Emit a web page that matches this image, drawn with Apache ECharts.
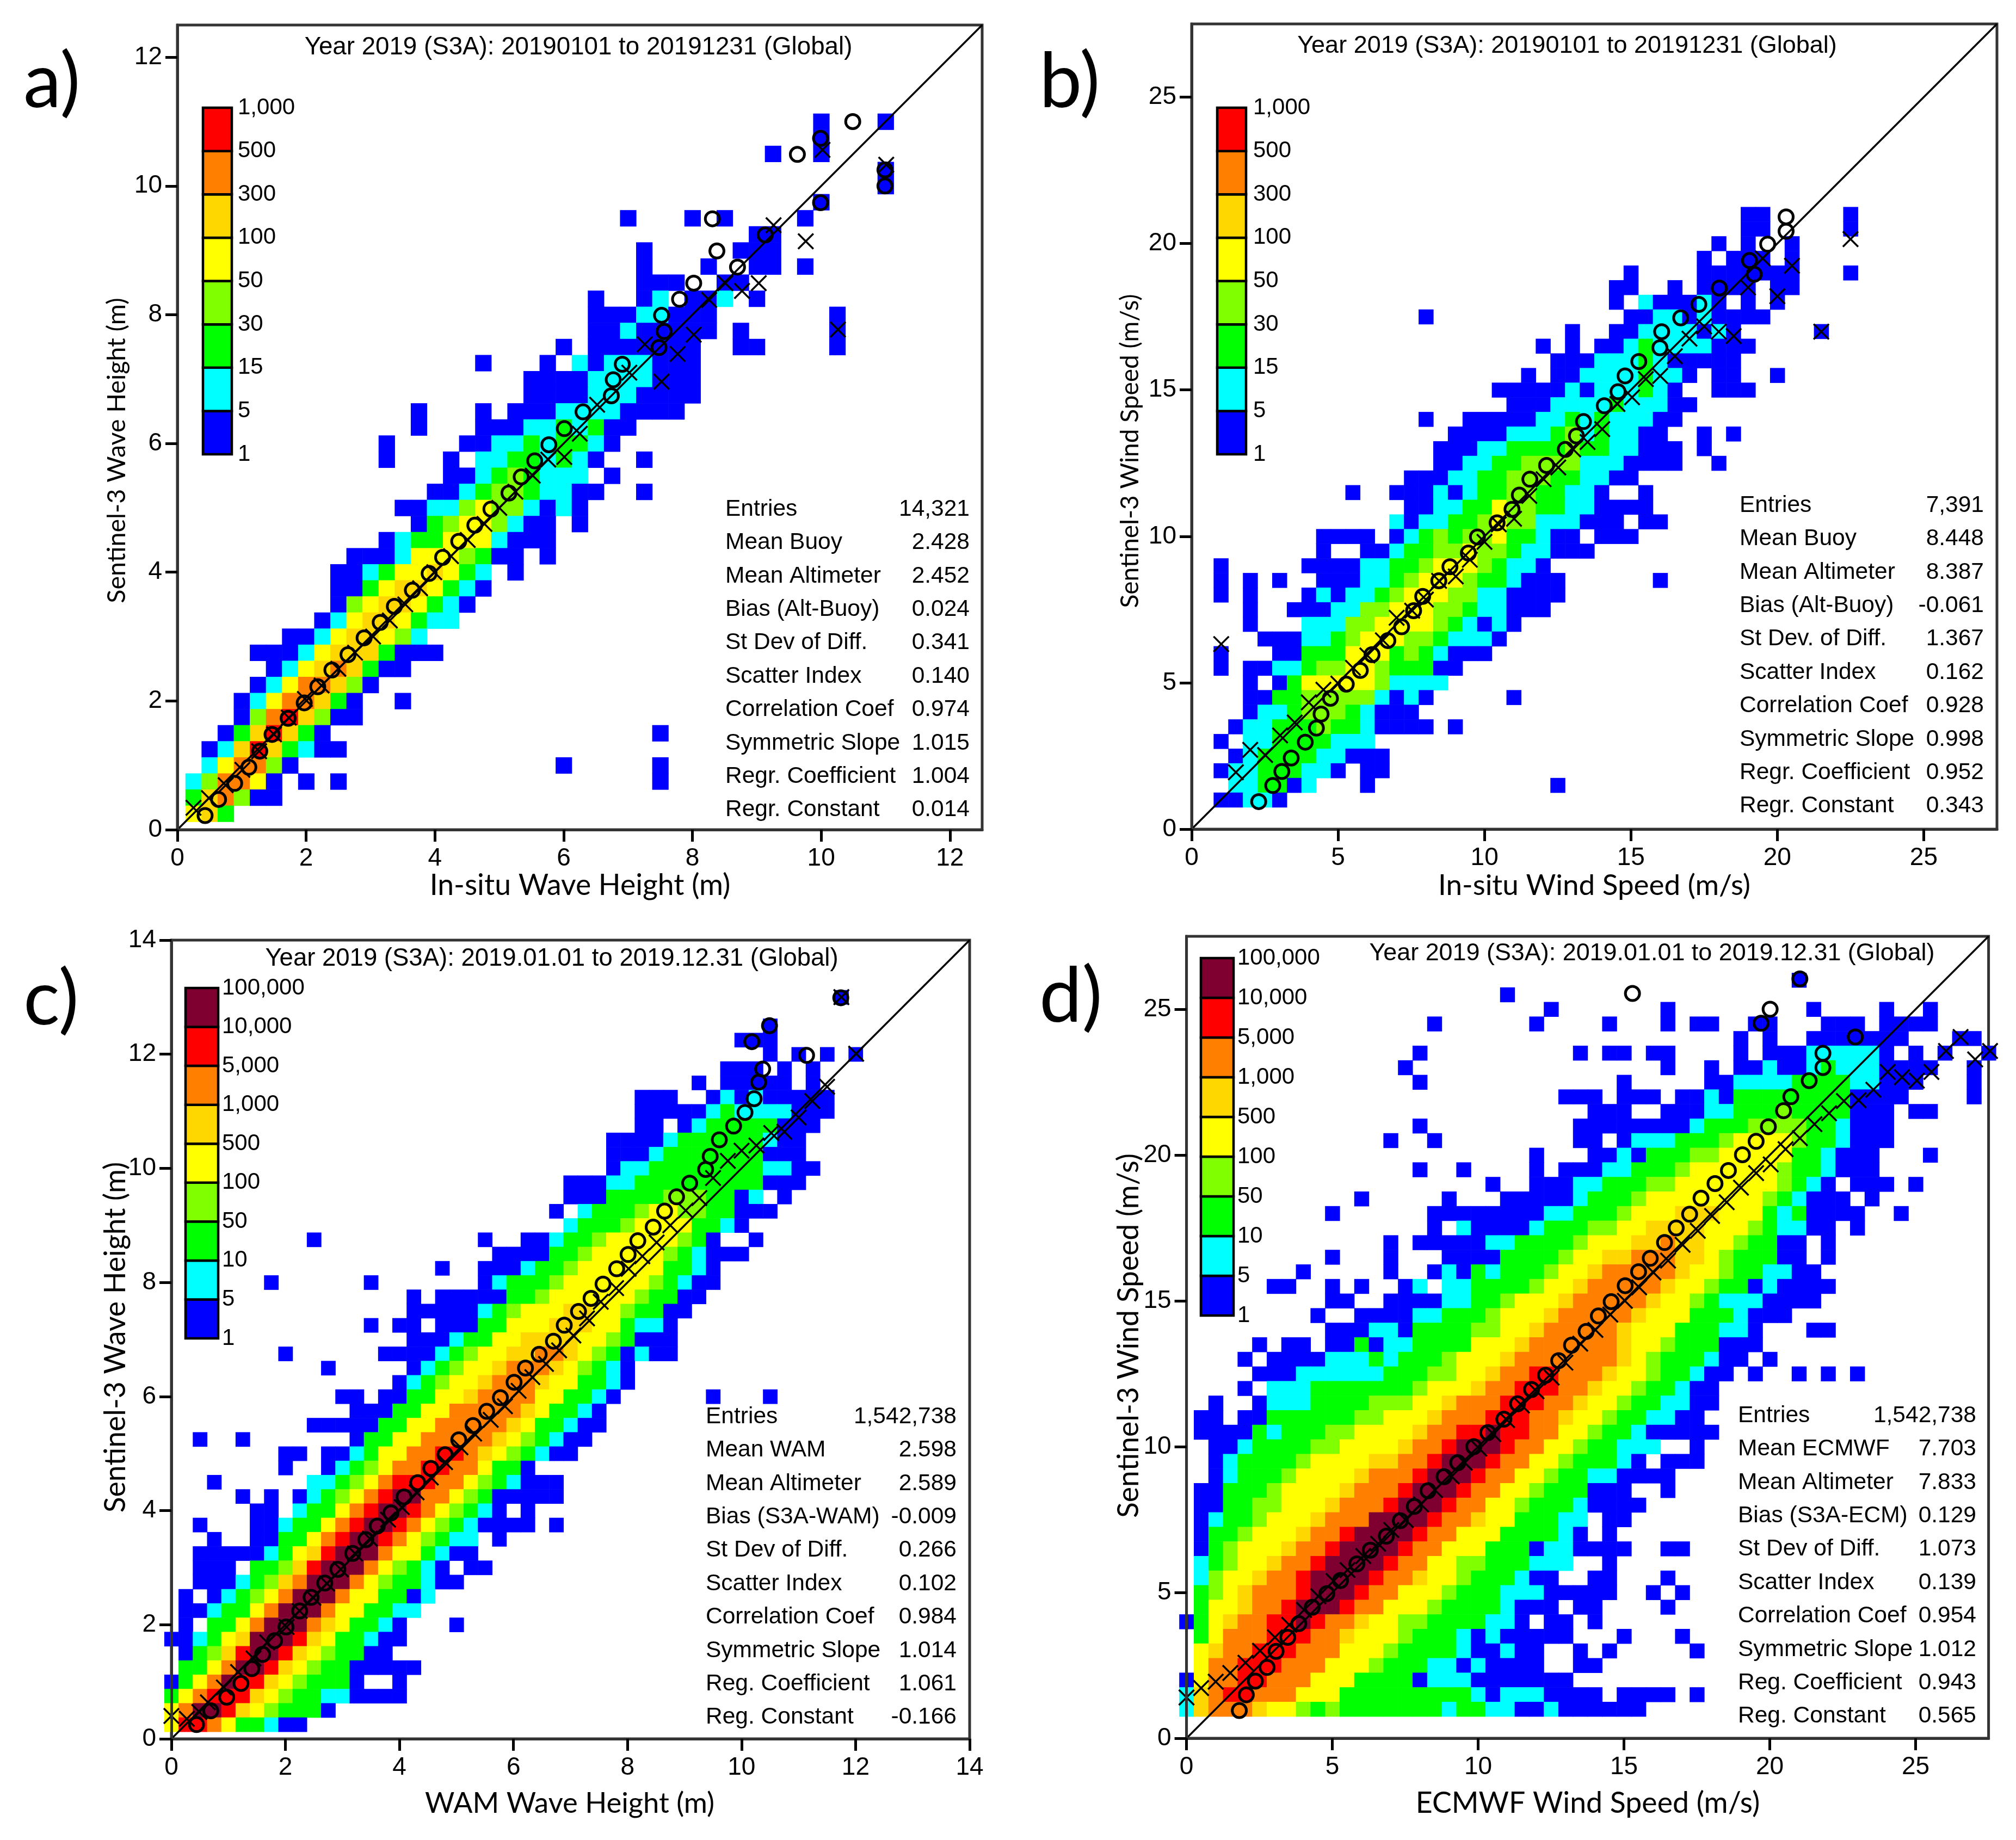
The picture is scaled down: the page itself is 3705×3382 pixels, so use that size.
<!DOCTYPE html>
<html>
<head>
<meta charset="utf-8">
<title>Sentinel-3 scatter comparison 2019</title>
<style>
	html, body { margin: 0; padding: 0; background: #fff; }
	#main { width: 3705px; height: 3382px; }
</style>
<script src="https://cdn.jsdelivr.net/npm/echarts@6/dist/echarts.min.js"></script>
</head>
<body>
<div id="main"></div>
<script type="text/javascript">
// colour classes, 1 = lowest count class
var classColors = ['#0000ff', '#00ffff', '#00ff00', '#80ff00', '#ffff00', '#ffd700', '#ff8000', '#ff0000', '#7f0030'];
var barLabelsTop = ['1', '5', '15', '30', '50', '100', '300', '500', '1,000'];
var barLabelsBottom = ['1', '5', '10', '50', '100', '500', '1,000', '5,000', '10,000', '100,000'];

var ticksWaveA = [0, 2, 4, 6, 8, 10, 12];
var ticksWaveC = [0, 2, 4, 6, 8, 10, 12, 14];
var ticksWind = [0, 5, 10, 15, 20, 25];

// cells per row: [row, first column, class per column] ('.' = empty), row/col count in bins
var cellsA = [
[44,40,'1...1'],[43,40,'1'],[42,37,'1..1'],[41,44,'1'],[40,44,'1'],[39,40,'1'],
[38,28,'1...1.1....1'],[37,36,'11'],[36,29,'1.....111'],[35,29,'1...1..11.1'],[34,29,'111..11'],
[33,26,'1..12.112.1'],[32,26,'11122111.......1'],[31,26,'11211111.1.....1'],[30,24,'1.1111111..11....1'],
[29,19,'1...1.21222111'],[28,22,'11112222111'],[27,22,'11112221111'],[26,15,'1...1.11122221111'],
[25,15,'1...1112232311'],[24,13,'1....1122323321'],[23,13,'1...1.22332321..1'],[22,17,'112343222.1'],
[21,16,'11234432211..1'],[20,14,'112245442121'],[19,15,'134554211.1'],[18,13,'12335552111'],
[17,11,'11125554311.1'],[16,10,'1123556532.1'],[15,10,'1135665321'],[14,10,'145665321'],[13,9,'125665322'],
[12,7,'112566542'],[11,5,'111256663111'],[10,6,'125676311'],[9,5,'12577641'],[8,4,'12577631..1'],
[7,4,'14786411'],[6,3,'1368631'],[6,30,'1'],[5,2,'126863211'],[4,2,'257741'],[4,24,'1'],[4,30,'1'],
[3,1,'247751.1.1'],[3,30,'1'],[2,1,'367411'],[1,1,'563']
];
var cellsB = [
[42,38,'11'],[42,45,'1'],[41,38,'11'],[41,45,'1'],[40,36,'1.1..1'],[39,35,'1.111.1'],[38,30,'1....1111111...1'],
[37,29,'11..1.1111.11'],[36,29,'1.211121.1.1'],[35,16,'1'],[35,30,'1122121111'],[34,26,'1..112222121.....1'],
[33,24,'1.1.11232222111'],[32,25,'1112223211111'],[31,23,'1.1122223221.11..1'],[30,21,'1111121222321..111'],
[29,22,'1112222322211'],[28,16,'1'],[28,19,'111112232322211'],[27,18,'111122234232211..1.1'],
[26,17,'11122333343322111.1'],[25,17,'11223344442221111..1'],[24,15,'1112233444332211'],
[23,11,'1..111212334433221..1'],[22,15,'11223354433221111'],[21,14,'2122334544222111.11'],
[20,9,'1111.1234344533211.111'],[19,9,'1..1123344544322111'],[18,2,'1.....11112233455543221'],
[17,2,'1.1.1..11122345554332111'],[17,32,'1'],[16,2,'1.1...121223455544221111'],[15,4,'1..111224455544322111'],
[14,4,'1...222445555432121'],[13,5,'11122345554432221'],[12,2,'1...113335553432111'],[11,2,'1.112234455433311'],
[10,4,'1.135555542222'],[9,4,'1133444442121'],[9,22,'1'],[8,4,'122344432111'],[7,3,'12233343321111.1'],
[6,2,'1.223333222'],[5,3,'12333322111'],[4,2,'122333221.11'],[3,3,'223312...1'],[3,25,'1'],[2,2,'11221']
];
var cellsC = [
[52,47,'1'],[50,42,'1'],[49,40,'111'],[48,42,'1.1.1.1'],[47,39,'111.1.1'],[46,37,'1.11111.1'],
[45,33,'111..121211111'],[44,33,'11111232222111'],[43,33,'11.1233333111'],[42,31,'11112333333211'],
[41,31,'11123333333111'],[40,31,'122333333332211'],[39,28,'11122333333333111'],[38,28,'11133334443312.1'],
[37,27,'1.23334554433111'],[36,28,'2333455553321'],[35,10,'1...........1..11233455555431..1'],
[34,23,'111133455555432111'],[33,19,'1..11123345555553321'],[32,7,'1......1.......12333455555543211'],
[31,17,'1.1111133455555543311'],[30,17,'11111234555665543311'],[29,14,'1.11.11133555666553221'],
[28,17,'1112335566665543111'],[27,8,'1......111123455667765431211'],[26,11,'1.....1234556777654321'],
[25,16,'12345567776553321'],[24,12,'11.11335567777553321'],[24,38,'1...1'],[23,13,'111335577777653321'],
[22,10,'111113355777776533211'],[21,2,'1..1.......13355777776543211'],[20,8,'11.112355778876543211'],
[19,8,'1..123457788775331'],[18,3,'1......223457888775432111'],[17,5,'1.1.1234578997754311111'],
[16,6,'11.233578998754321.1'],[15,2,'1...11233578998754321111.1'],[14,3,'1..1133578998754322.1'],
[13,2,'11111235689997553211'],[12,2,'111.33468999754321.11'],[11,2,'1112346799975433211'],
[10,1,'1.1234579997553312'],[9,1,'11233579997553322'],[8,1,'1.33579997653321...1'],[7,0,'11235699986533211'],
[6,1,'134689986543311'],[5,1,'33579986543311111'],[4,0,'13579886543331..1'],[3,0,'35788865433221111'],
[2,0,'579986543331'],[1,0,'5887533211']
];
var cellsD = [
[52,42,'1'],[51,22,'1'],[50,25,'1.......1.........1....1..1'],[49,17,'1......1....1...1.11..11...111.1111'],
[48,38,'1.1..1111111...11'],[47,16,'1'],[47,27,'1.11.11....1.111222221.1.1..1'],[46,15,'1'],
[46,33,'1..1.11211232221111..1'],[45,16,'1'],[45,30,'1.....112222333322111...1'],
[44,26,'111.111.1121333333331111....1'],[43,28,'111..1112233343333111.11'],
[42,16,'1..........1111111123334444332111'],[41,14,'1..1.........11.1222333455554332111'],
[40,24,'1...11213334455555332111...1'],[39,16,'1..1....1.1112233345555554332111'],
[38,21,'1..111223334455555554321.111.1'],[37,12,'1.....1...111112333455555555432111.1'],
[36,10,'1......111111112233345556665553231111..1'],[35,17,'1.21111233344556666555432211.1'],
[34,14,'1.111112233334555667665543311.1'],[33,10,'1...1...1111333345566777665433311.1'],
[32,8,'1.....1..121323334556777776554332211'],[31,6,'11..1.1..12.223333455677777655433121111'],
[30,10,'11..111122334555677777655432221111'],[29,9,'1..111122333455567777765553332111'],
[28,10,'111221333344556777776555333221...11'],[27,5,'1.11.113122333355567777776554333111'],
[26,4,'1.111122232333455567777777654333211.1'],[25,5,'111222222333445567788777655433211.1..1.1.1'],
[24,4,'1.2223333333455567788877655433211'],[23,2,'1..12223333444556777888776554332211'],
[22,1,'11.11333333445556777888776554332211'],[21,1,'111132333445555677889887755433211111'],
[20,2,'1123333445555677899987755433222..1'],[19,2,'123333455556677899987755433321.111'],
[18,2,'12333455556777899987755433221111'],[17,1,'113334555567778999877554333111..1'],
[16,1,'1133445556777899987755433321111'],[15,1,'123345556777999987765533322.11'],
[14,1,'133455567789999877555333321.1'],[13,1,'134555677899998775553331221111..11'],
[12,1,'23455677899998775544333222..1'],[11,1,'2455677899998776554333211..11...1'],
[10,1,'34567778999877555433322211111..1.1'],[9,1,'3556778999877555433332111.11....1'],
[8,0,'135677889877655443333221.11.1'],[7,1,'35777888776555433321211111...1...1'],
[6,1,'567788877755543333211211..1.1.....1'],[5,1,'577888777555433322121111..11'],
[4,0,'157788777555333312221111111'],[3,0,'26788777555333333333212221111.1111.1'],
[2,0,'26777655434333333323322112111111']
];

// open circles and crosses
var circlesA = [[.43,.22],[.64,.47],[.89,.72],[1.11,.97],[1.28,1.22],[1.47,1.48],[1.72,1.73],[1.97,1.97],[2.18,2.22],[2.40,2.48],[2.65,2.72],[2.90,2.98],[3.15,3.22],[3.37,3.47],[3.65,3.72],[3.91,3.98],[4.12,4.23],[4.37,4.48],[4.62,4.73],[4.87,4.98],[5.15,5.23],[5.34,5.48],[5.55,5.73],[5.77,5.98],[6.01,6.23],[6.30,6.49],[6.74,6.74],[6.77,6.99],[6.91,7.23],[7.48,7.49],[7.56,7.74],[7.52,7.99],[7.80,8.24],[8.02,8.49],[8.70,8.74],[8.38,8.99],[9.13,9.24],[8.31,9.49],[9.99,9.74],[10.99,10.0],[10.99,10.25],[9.63,10.49],[9.99,10.74],[10.49,11.0]];
var crossesA = [[.25,.34],[.49,.49],[.75,.69],[1.01,.93],[1.27,1.22],[1.50,1.48],[1.73,1.74],[1.98,2.03],[2.24,2.24],[2.50,2.50],[2.76,2.75],[3.04,3.0],[3.30,3.25],[3.54,3.50],[3.77,3.75],[3.99,4.0],[4.25,4.25],[4.51,4.50],[4.77,4.75],[5.0,5.0],[5.25,5.25],[5.52,5.50],[5.76,5.75],[6.01,5.79],[6.25,6.15],[6.52,6.60],[7.02,7.10],[7.26,7.54],[7.52,6.96],[7.77,7.39],[8.02,7.69],[8.26,8.23],[8.51,8.49],[8.77,8.37],[9.03,8.49],[9.26,9.39],[9.76,9.14],[10.02,10.56],[10.26,7.77],[11.01,10.33]];
var circlesB = [[2.29,.94],[2.77,1.49],[3.08,1.97],[3.40,2.43],[3.88,2.97],[4.26,3.45],[4.42,3.93],[4.74,4.47],[5.28,4.95],[5.76,5.42],[6.16,5.96],[6.70,6.44],[7.17,6.91],[7.58,7.46],[7.89,7.95],[8.44,8.48],[8.82,8.96],[9.45,9.43],[9.76,9.98],[10.43,10.46],[10.94,10.92],[11.19,11.41],[11.55,11.95],[12.12,12.42],[12.76,12.97],[13.14,13.43],[13.38,13.92],[14.09,14.46],[14.56,14.94],[14.80,15.48],[15.27,15.97],[15.99,16.44],[16.05,16.99],[16.70,17.46],[17.32,17.92],[18.02,18.48],[19.21,18.95],[19.05,19.42],[19.67,19.98],[20.30,20.42],[20.30,20.91]];
var crossesB = [[1.01,6.32],[1.51,1.94],[2.0,2.71],[2.51,2.53],[3.02,3.20],[3.52,3.64],[4.0,4.33],[4.5,4.76],[5.01,4.97],[5.51,5.51],[6.0,5.93],[6.53,6.45],[7.0,7.22],[7.53,7.46],[8.0,7.84],[8.45,8.48],[9.02,8.63],[9.5,9.2],[10.0,9.81],[10.49,10.41],[11.01,10.6],[11.53,11.38],[12.02,11.95],[12.52,12.35],[13.03,12.97],[13.52,13.22],[14.02,13.66],[14.54,14.52],[15.04,14.75],[15.51,15.37],[16.0,15.48],[16.5,16.15],[17.0,16.75],[17.5,17.17],[18.0,16.99],[18.51,16.84],[19.0,18.5],[19.5,19.49],[20.0,18.2],[20.5,19.24],[21.5,16.99],[22.5,20.15]];
var circlesC = [[.44,.25],[.69,.49],[.97,.73],[1.22,.97],[1.41,1.23],[1.60,1.48],[1.81,1.72],[2.01,1.96],[2.25,2.24],[2.45,2.48],[2.69,2.73],[2.92,2.97],[3.18,3.25],[3.41,3.49],[3.61,3.73],[3.85,3.96],[4.08,4.24],[4.32,4.49],[4.55,4.74],[4.80,4.98],[5.04,5.24],[5.29,5.49],[5.53,5.74],[5.77,5.98],[6.01,6.25],[6.21,6.50],[6.45,6.74],[6.70,6.97],[6.89,7.25],[7.14,7.49],[7.36,7.72],[7.57,7.97],[7.81,8.24],[8.01,8.49],[8.18,8.73],[8.45,8.97],[8.65,9.25],[8.86,9.50],[9.09,9.74],[9.37,9.98],[9.45,10.21],[9.61,10.50],[9.86,10.74],[10.06,10.98],[10.22,11.22],[10.30,11.51],[10.37,11.74],[11.14,11.98],[10.18,12.22],[10.49,12.50],[11.74,12.99]];
var crossesC = [[0,.40],[.27,.35],[.49,.47],[.64,.64],[.92,.90],[1.17,1.17],[1.44,1.41],[1.68,1.69],[2.02,1.96],[2.25,2.24],[2.49,2.47],[2.73,2.72],[2.97,2.97],[3.22,3.25],[3.48,3.51],[3.80,3.84],[4.04,4.06],[4.30,4.32],[4.55,4.58],[4.80,4.85],[5.07,5.11],[5.31,5.35],[5.60,5.59],[5.85,5.83],[6.09,6.10],[6.33,6.34],[6.57,6.57],[6.80,6.81],[7.05,7.07],[7.29,7.37],[7.53,7.66],[7.80,7.90],[8.02,8.24],[8.26,8.46],[8.51,8.70],[8.75,9.0],[9.02,9.26],[9.26,9.48],[9.50,9.83],[9.76,10.13],[10.0,10.31],[10.26,10.40],[10.52,10.62],[10.75,10.64],[11.0,10.89],[11.24,11.18],[11.5,11.43],[12.01,12.01],[11.75,13.0]];
var circlesD = [[1.81,.95],[2.05,1.49],[2.36,1.96],[2.76,2.43],[3.07,2.98],[3.47,3.46],[3.85,3.93],[4.31,4.49],[4.81,4.96],[5.28,5.41],[5.84,5.98],[6.30,6.45],[6.85,6.93],[7.33,7.46],[7.81,7.95],[8.28,8.49],[8.83,8.97],[9.30,9.45],[9.85,10.0],[10.33,10.48],[10.88,10.94],[11.35,11.47],[11.83,11.96],[12.31,12.45],[12.76,12.95],[13.2,13.48],[13.70,13.95],[14.12,14.48],[14.56,14.97],[15.04,15.52],[15.50,16.0],[15.9,16.46],[16.39,17.0],[16.79,17.5],[17.25,17.97],[17.64,18.52],[18.12,19.02],[18.58,19.47],[19.06,20.01],[19.53,20.47],[19.95,20.97],[20.47,21.52],[20.72,22.0],[21.35,22.55],[21.82,23.0],[21.82,23.49],[22.93,24.05],[19.70,24.52],[20.01,25.0],[15.29,25.54],[21.03,26.04]];
var crossesD = [[0,1.40],[.50,1.72],[1.0,1.94],[1.50,2.24],[2.02,2.59],[2.52,3.0],[3.03,3.46],[3.52,3.89],[4.03,4.40],[4.52,4.87],[5.04,5.39],[5.52,5.77],[6.06,6.25],[6.57,6.67],[7.02,7.14],[7.52,7.48],[8.04,8.02],[8.52,8.51],[9.09,8.98],[9.54,9.45],[10.04,9.93],[10.52,10.43],[10.99,10.91],[11.5,11.41],[12.0,11.9],[12.52,12.37],[12.99,12.88],[13.50,13.53],[14.02,14.0],[14.53,14.53],[15.03,15.0],[15.52,15.46],[16.01,15.97],[16.51,16.38],[17.01,16.92],[17.53,17.4],[18.02,17.91],[18.52,18.38],[19.01,18.88],[19.53,19.38],[20.03,19.68],[20.54,20.2],[21.03,20.58],[21.53,21.06],[22.03,21.43],[22.54,21.85],[23.04,21.88],[23.55,22.24],[24.04,22.85],[24.53,22.67],[25.04,22.55],[25.54,22.85],[26.04,23.57],[26.54,24.05],[27.04,23.28],[27.55,23.57]];

var statNamesA = ['Entries', 'Mean Buoy', 'Mean Altimeter', 'Bias (Alt-Buoy)', 'St Dev of Diff.', 'Scatter Index', 'Correlation Coef', 'Symmetric Slope', 'Regr. Coefficient', 'Regr. Constant'];
var statValuesA = ['14,321', '2.428', '2.452', '0.024', '0.341', '0.140', '0.974', '1.015', '1.004', '0.014'];
var statNamesB = ['Entries', 'Mean Buoy', 'Mean Altimeter', 'Bias (Alt-Buoy)', 'St Dev. of Diff.', 'Scatter Index', 'Correlation Coef', 'Symmetric Slope', 'Regr. Coefficient', 'Regr. Constant'];
var statValuesB = ['7,391', '8.448', '8.387', '-0.061', '1.367', '0.162', '0.928', '0.998', '0.952', '0.343'];
var statNamesC = ['Entries', 'Mean WAM', 'Mean Altimeter', 'Bias (S3A-WAM)', 'St Dev of Diff.', 'Scatter Index', 'Correlation Coef', 'Symmetric Slope', 'Reg. Coefficient', 'Reg. Constant'];
var statValuesC = ['1,542,738', '2.598', '2.589', '-0.009', '0.266', '0.102', '0.984', '1.014', '1.061', '-0.166'];
var statNamesD = ['Entries', 'Mean ECMWF', 'Mean Altimeter', 'Bias (S3A-ECM)', 'St Dev of Diff.', 'Scatter Index', 'Correlation Coef', 'Symmetric Slope', 'Reg. Coefficient', 'Reg. Constant'];
var statValuesD = ['1,542,738', '7.703', '7.833', '0.129', '1.073', '0.139', '0.954', '1.012', '0.943', '0.565'];

var plainFont = '"Liberation Sans", Arial, sans-serif';
var nameFont = 'Lato, "Open Sans", sans-serif';

var panels = [
	{ letter: 'a)', cells: cellsA, circles: circlesA, crosses: crossesA, bin: 0.25, max: 12.5, step: 2, ticks: ticksWaveA, barLabels: barLabelsTop,
		title: 'Year 2019 (S3A): 20190101 to 20191231 (Global)', xName: 'In-situ Wave Height (m)', yName: 'Sentinel-3 Wave Height (m)',
		statNames: statNamesA, statValues: statValuesA,
		box: [326, 46, 1479, 1479], bar: [373, 198, 53, 637], barMargin: 11, barLift: 0, titlePos: [1063, 87], titleSize: 45.7,
		xNamePos: [1066, 1628], yNamePos: [215, 828], letterPos: [43, 152],
		statX: [1333, 1782], statY: 936, xNameSize: 53.5, yNameSize: 46.6 },
	{ letter: 'b)', cells: cellsB, circles: circlesB, crosses: crossesB, bin: 0.5, max: 27.5, step: 5, ticks: ticksWind, barLabels: barLabelsTop,
		title: 'Year 2019 (S3A): 20190101 to 20191231 (Global)', xName: 'In-situ Wind Speed (m/s)', yName: 'Sentinel-3 Wind Speed (m/s)',
		statNames: statNamesB, statValues: statValuesB,
		box: [2190, 44, 1480, 1480], bar: [2237, 198, 53, 637], barMargin: 13, barLift: 0, titlePos: [2880, 85], titleSize: 45,
		xNamePos: [2930, 1628], yNamePos: [2077, 829], letterPos: [1910, 152],
		statX: [3197, 3646], statY: 929, xNameSize: 53, yNameSize: 46 },
	{ letter: 'c)', cells: cellsC, circles: circlesC, crosses: crossesC, bin: 0.25, max: 14, step: 2, ticks: ticksWaveC, barLabels: barLabelsBottom,
		title: 'Year 2019 (S3A): 2019.01.01 to 2019.12.31 (Global)', xName: 'WAM Wave Height (m)', yName: 'Sentinel-3 Wave Height (m)',
		statNames: statNamesC, statValues: statValuesC,
		box: [315, 1728, 1467, 1468], bar: [341, 1816, 60, 644], barMargin: 7, barLift: 12, titlePos: [1014, 1762], titleSize: 45.5,
		xNamePos: [1047, 3315], yNamePos: [213, 2458], letterPos: [43, 1838],
		statX: [1297, 1758], statY: 2604, xNameSize: 52.5, yNameSize: 53.5 },
	{ letter: 'd)', cells: cellsD, circles: circlesD, crosses: crossesD, bin: 0.5, max: 27.5, step: 5, ticks: ticksWind, barLabels: barLabelsBottom,
		title: 'Year 2019 (S3A): 2019.01.01 to 2019.12.31 (Global)', xName: 'ECMWF Wind Speed (m/s)', yName: 'Sentinel-3 Wind Speed (m/s)',
		statNames: statNamesD, statValues: statValuesD,
		box: [2180.6, 1721, 1474, 1474], bar: [2207, 1761, 60, 657], barMargin: 7, barLift: 8, titlePos: [3036, 1753], titleSize: 44.9,
		xNamePos: [2918, 3315], yNamePos: [2075, 2455], letterPos: [1910, 1833],
		statX: [3194, 3632], statY: 2602, xNameSize: 53.6, yNameSize: 53.4 }
];

// unpack the row strings into [x, y, class]
function toCells(rows, bin) {
	var out = [];
	rows.forEach(function (row) {
		for (var i = 0; i < row[2].length; i++) {
			var c = row[2].charAt(i);
			if (c !== '.') {
				out.push([(row[1] + i) * bin, row[0] * bin, Number(c)]);
			}
		}
	});
	return out;
}

function textEl(x, y, str, size, family, align, rotation) {
	return {
		type: 'text', x: x, y: y, rotation: rotation || 0, silent: true, z: 50,
		style: { text: str, fontSize: size, fontFamily: family, fill: '#000', align: align, verticalAlign: 'middle' }
	};
}

var grid = [], xAxis = [], yAxis = [], series = [], graphic = [];

panels.forEach(function (p) {
	var bin = p.bin;
	var n = grid.length;
	grid.push({ left: p.box[0], top: p.box[1], width: p.box[2], height: p.box[3], show: true, borderColor: '#333', borderWidth: 5, backgroundColor: 'transparent' });
	var axisCommon = {
		gridIndex: n, type: 'value', min: 0, max: p.max, interval: p.step, z: 10,
		axisLine: { show: true, onZero: false, lineStyle: { color: '#333', width: 5 } },
		axisTick: { show: true, length: 22, customValues: p.ticks, lineStyle: { color: '#000', width: 5 } },
		axisLabel: { customValues: p.ticks, fontSize: 46, fontFamily: plainFont, color: '#000' },
		splitLine: { show: false }
	};
	xAxis.push(echarts.util.merge({ position: 'bottom', axisLabel: { margin: 30 } }, axisCommon));
	yAxis.push(echarts.util.merge({ position: 'left', axisLabel: { margin: 28 } }, axisCommon));

	series.push({
		type: 'custom', xAxisIndex: n, yAxisIndex: n, data: toCells(p.cells, bin), encode: { x: 0, y: 1 }, clip: false, z: 2, silent: true, progressive: 0,
		renderItem: function (params, api) {
			var x = api.value(0), y = api.value(1);
			var a = api.coord([x - bin / 2, y + bin / 2]);
			var b = api.coord([x + bin / 2, y - bin / 2]);
			return { type: 'rect', shape: { x: a[0], y: a[1], width: b[0] - a[0] + 0.6, height: b[1] - a[1] + 0.6 }, style: { fill: classColors[api.value(2) - 1] } };
		}
	});
	series.push({
		type: 'line', xAxisIndex: n, yAxisIndex: n, data: [[0, 0], [p.max, p.max]], showSymbol: false, symbol: 'none', z: 3, silent: true,
		lineStyle: { color: '#000', width: 3.5 }
	});
	series.push({
		type: 'scatter', xAxisIndex: n, yAxisIndex: n, data: p.crosses, clip: false, z: 4, silent: true, symbolSize: 28,
		symbol: 'path://M0 0L10 10M10 0L0 10', itemStyle: { color: 'none', borderColor: '#000', borderWidth: 3.5, opacity: 1 }
	});
	series.push({
		type: 'scatter', xAxisIndex: n, yAxisIndex: n, data: p.circles, clip: false, z: 5, silent: true, symbolSize: 26,
		symbol: 'circle', itemStyle: { color: 'rgba(0,0,0,0)', borderColor: '#000', borderWidth: 5, opacity: 1 }
	});

	// colour bar: its own small grid with the class edges on a right hand axis
	var m = grid.length;
	var classCount = p.barLabels.length - 1;
	var labels = p.barLabels;
	var barData = [];
	for (var i = 0; i < classCount; i++) {
		barData.push([i, i + 1]);
	}
	grid.push({ left: p.bar[0], top: p.bar[1], width: p.bar[2], height: p.bar[3] });
	xAxis.push({ gridIndex: m, type: 'value', min: 0, max: 1, show: false });
	yAxis.push({
		gridIndex: m, type: 'value', min: 0, max: classCount, interval: 1, position: 'right',
		axisLine: { show: false }, axisTick: { show: false }, splitLine: { show: false },
		axisLabel: {
			margin: p.barMargin, padding: [0, 0, p.barLift, 0], fontSize: 42, fontFamily: plainFont, color: '#000', showMinLabel: true, showMaxLabel: true,
			formatter: function (v) { return labels[v]; }
		}
	});
	series.push({
		type: 'custom', xAxisIndex: m, yAxisIndex: m, data: barData, encode: { y: 1 }, clip: false, z: 6, silent: true,
		renderItem: function (params, api) {
			var k = api.value(0);
			var a = api.coord([0, k + 1]);
			var b = api.coord([1, k]);
			return { type: 'rect', shape: { x: a[0], y: a[1], width: b[0] - a[0], height: b[1] - a[1] }, style: { fill: classColors[k], stroke: '#000', lineWidth: 4.5 } };
		}
	});

	graphic.push(textEl(p.titlePos[0], p.titlePos[1], p.title, p.titleSize, plainFont, 'center'));
	graphic.push(textEl(p.xNamePos[0], p.xNamePos[1], p.xName, p.xNameSize, nameFont, 'center'));
	graphic.push(textEl(p.yNamePos[0], p.yNamePos[1], p.yName, p.yNameSize, nameFont, 'center', Math.PI / 2));
	graphic.push(textEl(p.letterPos[0], p.letterPos[1], p.letter, 140, nameFont, 'left'));
	p.statNames.forEach(function (name, k) {
		graphic.push(textEl(p.statX[0], p.statY + k * 61.4, name, 42.5, plainFont, 'left'));
		graphic.push(textEl(p.statX[1], p.statY + k * 61.4, p.statValues[k], 42.5, plainFont, 'right'));
	});
});

var myChart = echarts.init(document.getElementById('main'));
myChart.setOption({
	animation: false,
	backgroundColor: '#fff',
	grid: grid,
	xAxis: xAxis,
	yAxis: yAxis,
	series: series,
	graphic: graphic
});
</script>
</body>
</html>
